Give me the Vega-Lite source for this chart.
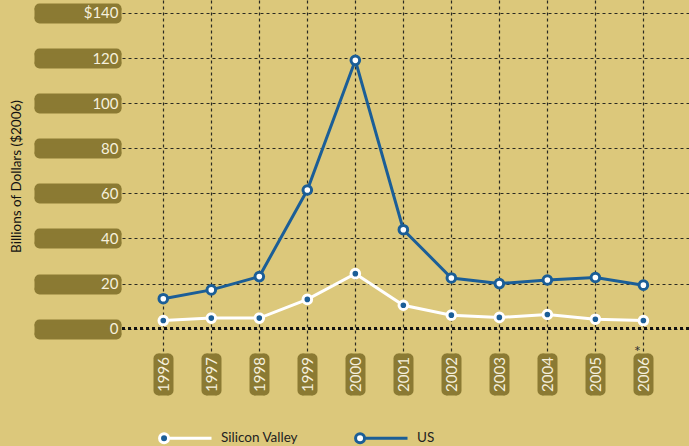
{
  "$schema": "https://vega.github.io/schema/vega-lite/v6.json",
  "width": 567,
  "height": 353,
  "autosize": {"type": "none"},
  "padding": {"left": 122, "top": 0, "right": 0, "bottom": 93},
  "background": "#dcc87b",
  "config": {
    "view": {"stroke": null},
    "font": "Lato",
    "axis": {
      "domain": false,
      "gridDash": [3, 3],
      "gridColor": "#2a2a22",
      "gridWidth": 1.2,
      "tickColor": "#8b7a33",
      "labelColor": "#f6f0dc",
      "labelFontSize": 15,
      "labelFont": "Lato"
    }
  },
  "resolve": {"axis": {"x": "independent", "y": "independent"}},
  "data": {
    "values": [
      {"year": 1996, "series": "Silicon Valley", "value": 3.6},
      {"year": 1997, "series": "Silicon Valley", "value": 4.7},
      {"year": 1998, "series": "Silicon Valley", "value": 4.7},
      {"year": 1999, "series": "Silicon Valley", "value": 13.0},
      {"year": 2000, "series": "Silicon Valley", "value": 24.4},
      {"year": 2001, "series": "Silicon Valley", "value": 10.4},
      {"year": 2002, "series": "Silicon Valley", "value": 6.0},
      {"year": 2003, "series": "Silicon Valley", "value": 5.0},
      {"year": 2004, "series": "Silicon Valley", "value": 6.3},
      {"year": 2005, "series": "Silicon Valley", "value": 4.2},
      {"year": 2006, "series": "Silicon Valley", "value": 3.6},
      {"year": 1996, "series": "US", "value": 13.3},
      {"year": 1997, "series": "US", "value": 17.2},
      {"year": 1998, "series": "US", "value": 23.1},
      {"year": 1999, "series": "US", "value": 61.5},
      {"year": 2000, "series": "US", "value": 119.0},
      {"year": 2001, "series": "US", "value": 43.9},
      {"year": 2002, "series": "US", "value": 22.5},
      {"year": 2003, "series": "US", "value": 20.0},
      {"year": 2004, "series": "US", "value": 21.6},
      {"year": 2005, "series": "US", "value": 22.7},
      {"year": 2006, "series": "US", "value": 19.3}
    ]
  },
  "layer": [
    {
      "mark": {"type": "rule", "strokeWidth": 2.5, "strokeDash": [3, 3], "color": "#111"},
      "encoding": {"y": {"datum": 0, "type": "quantitative", "axis": null}}
    },
    {
      "mark": {"type": "line", "strokeWidth": 3},
      "encoding": {
        "x": {
          "field": "year",
          "type": "quantitative",
          "scale": {"domain": [1995.14, 2006.95], "nice": false, "zero": false},
          "axis": {
            "orient": "bottom",
            "values": [1996, 1997, 1998, 1999, 2000, 2001, 2002, 2003, 2004, 2005, 2006],
            "title": null, "labels": false, "grid": false,
            "offset": 5, "tickSize": 32, "tickWidth": 10, "tickCap": "round", "tickOffset": -5
          }
        },
        "y": {
          "field": "value",
          "type": "quantitative",
          "scale": {"domain": [-10.78, 145.76], "nice": false, "zero": false},
          "axis": {
            "orient": "left",
            "values": [0, 20, 40, 60, 80, 100, 120, 140],
            "title": null, "labels": false, "grid": false,
            "offset": 6, "tickSize": 77, "tickWidth": 10, "tickCap": "round", "tickOffset": -5
          }
        },
        "stroke": {
          "field": "series",
          "type": "nominal",
          "scale": {"domain": ["Silicon Valley", "US"], "range": ["#ffffff", "#1b5e97"]},
          "legend": {
            "orient": "none",
            "legendX": 35,
            "legendY": 410,
            "direction": "horizontal",
            "title": null,
            "symbolType": "M-0.96,0A0.17,0.17,0,1,0,-0.62,0A0.17,0.17,0,1,0,-0.96,0ZM-0.62,0L1,0",
            "symbolSize": 2809,
            "symbolStrokeWidth": 3,
            "labelFontSize": 13.5,
            "labelColor": "#222",
            "labelFont": "Lato",
            "labelOffset": 8,
            "columnPadding": 50
          }
        }
      }
    },
    {
      "mark": {"type": "point", "filled": true, "size": 74, "strokeWidth": 3, "opacity": 1},
      "encoding": {
        "x": {
          "field": "year", "type": "quantitative",
          "axis": {
            "orient": "bottom",
            "values": [1996, 1997, 1998, 1999, 2000, 2001, 2002, 2003, 2004, 2005, 2006],
            "title": null, "labels": false, "grid": false,
            "offset": 5, "tickSize": 32, "tickWidth": 10, "tickCap": "round", "tickOffset": 5
          }
        },
        "y": {
          "field": "value", "type": "quantitative",
          "axis": {
            "orient": "left",
            "values": [0, 20, 40, 60, 80, 100, 120, 140],
            "title": null, "labels": false, "grid": false,
            "offset": 6, "tickSize": 77, "tickWidth": 10, "tickCap": "round", "tickOffset": 5
          }
        },
        "fill": {
          "field": "series",
          "type": "nominal",
          "scale": {"domain": ["Silicon Valley", "US"], "range": ["#1b5e97", "#ffffff"]},
          "legend": {
            "orient": "none",
            "legendX": 35,
            "legendY": 410,
            "direction": "horizontal",
            "title": null,
            "symbolType": "M-0.96,0A0.17,0.17,0,1,0,-0.62,0A0.17,0.17,0,1,0,-0.96,0ZM-0.62,0L1,0",
            "symbolSize": 2809,
            "symbolStrokeWidth": 3,
            "labelFontSize": 13.5,
            "labelColor": "#222",
            "labelFont": "Lato",
            "labelOffset": 8,
            "columnPadding": 50
          }
        },
        "stroke": {"field": "series", "type": "nominal"}
      }
    },
    {
      "data": {"values": [{"year": 2006, "note": "*"}]},
      "mark": {"type": "text", "fontSize": 16, "color": "#333", "dx": -6, "baseline": "alphabetic"},
      "encoding": {
        "x": {
          "field": "year", "type": "quantitative",
          "axis": {
            "orient": "bottom",
            "values": [1996, 1997, 1998, 1999, 2000, 2001, 2002, 2003, 2004, 2005, 2006],
            "format": "d", "title": null, "grid": true,
            "labelAngle": 270, "labelAlign": "center", "labelBaseline": "middle",
            "offset": 0, "tickSize": 42, "tickWidth": 10, "tickCap": "butt",
            "labelPadding": -21
          }
        },
        "y": {
          "datum": -12.5, "type": "quantitative",
          "axis": {
            "orient": "left",
            "values": [0, 20, 40, 60, 80, 100, 120, 140],
            "labelExpr": "datum.value == 140 ? '$140' : datum.label",
            "grid": true,
            "title": "Billions of Dollars ($2006)",
            "titleFontSize": 13.5,
            "titleFontWeight": "normal",
            "titleColor": "#111",
            "titleFont": "Lato",
            "titleAngle": 270,
            "titleAlign": "center",
            "titleBaseline": "middle",
            "titleX": -105,
            "titleY": 176,
            "labelAlign": "right",
            "labelBaseline": "middle",
            "offset": 1, "tickSize": 87, "tickWidth": 10, "tickCap": "butt",
            "labelPadding": -84
          }
        },
        "text": {"field": "note"}
      }
    }
  ]
}
